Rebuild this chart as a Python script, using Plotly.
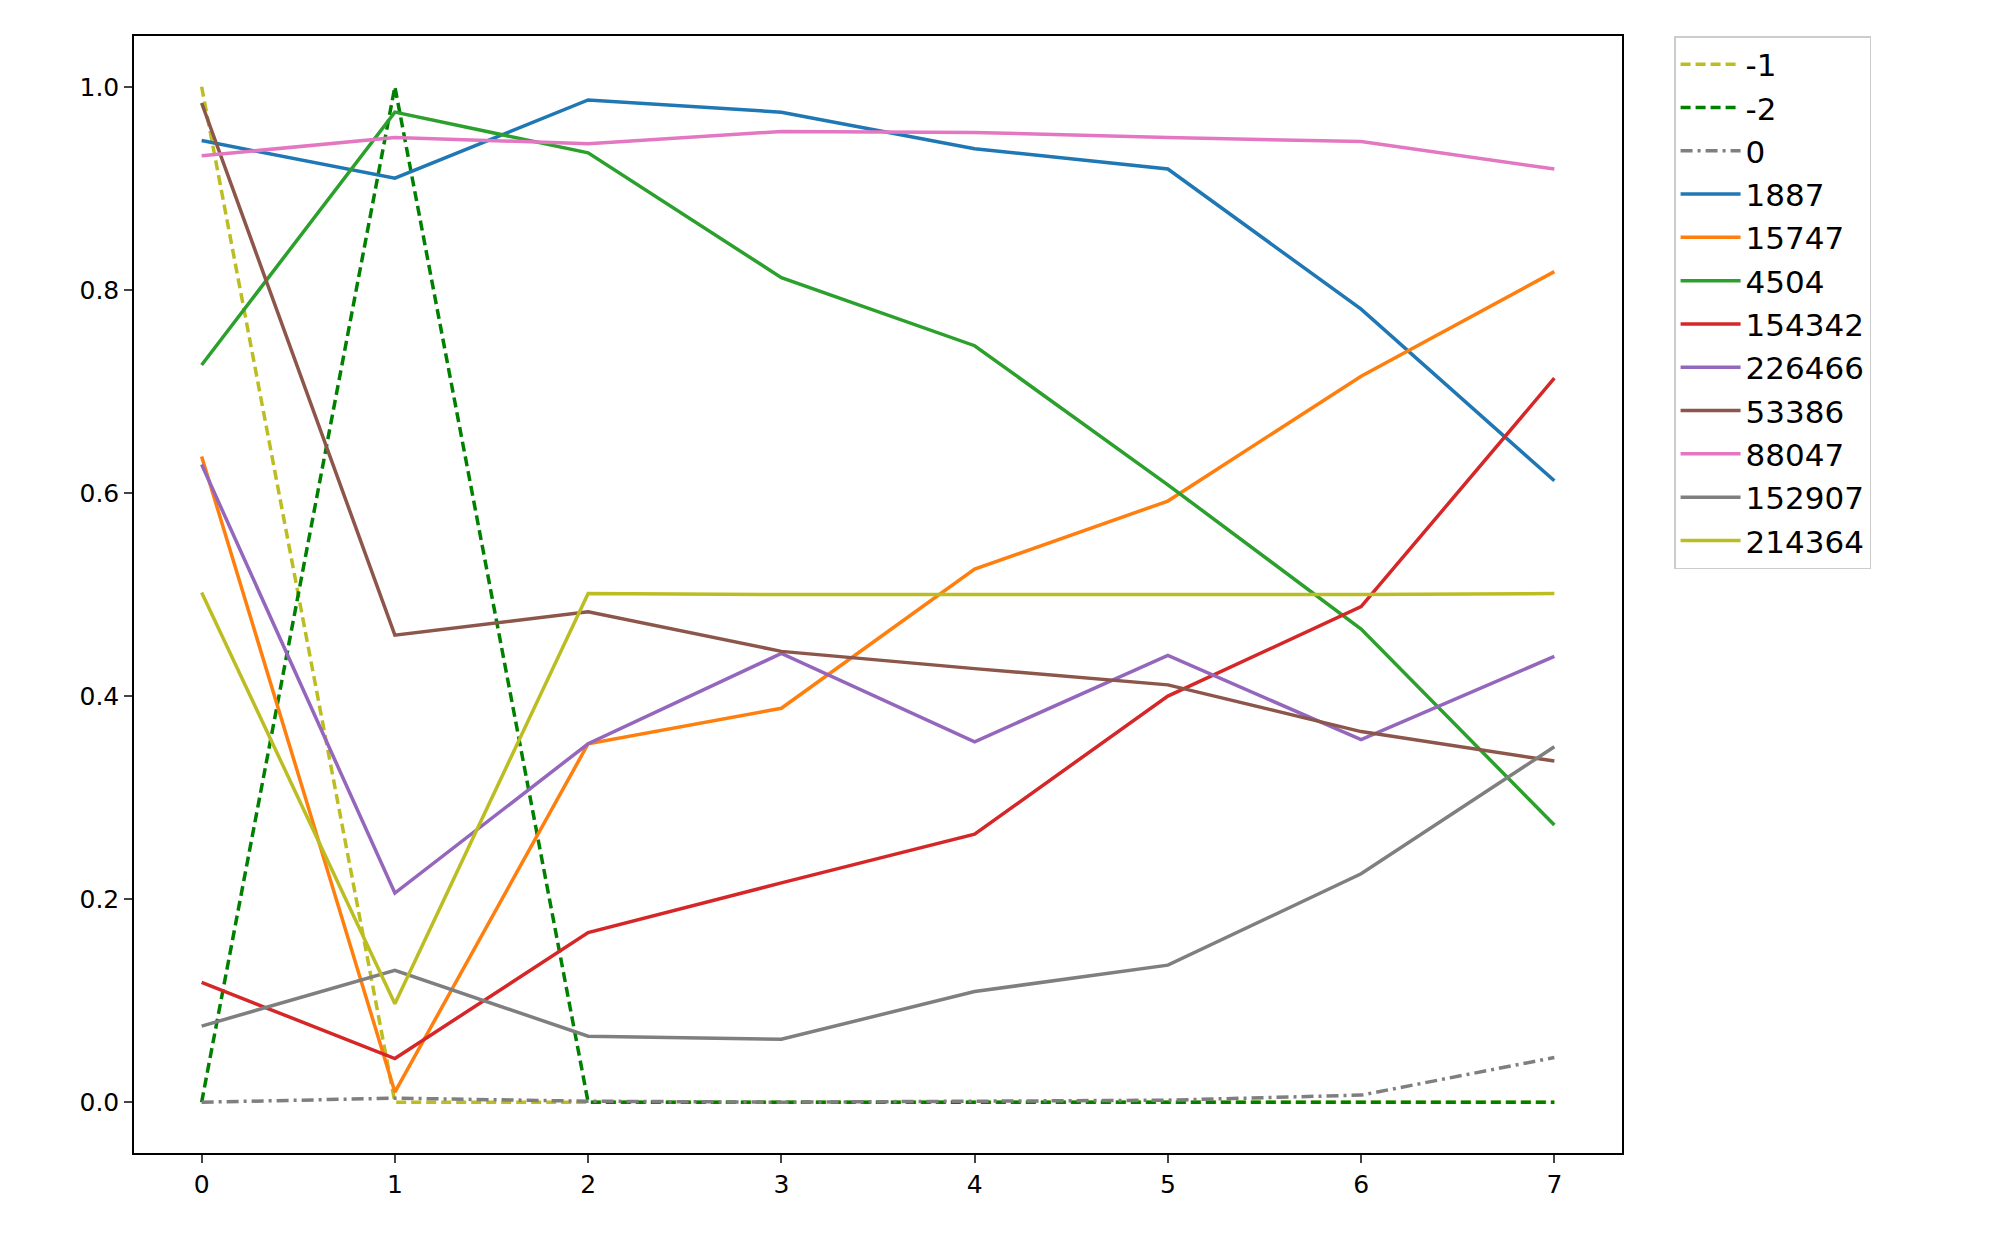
import plotly.graph_objects as go

x_vals = [0, 1, 2, 3, 4, 5, 6, 7]

names = ["-1", "-2", "0", "1887", "15747", "4504", "154342", "226466",
         "53386", "88047", "152907", "214364"]

s_m1 = [1.0, 0.0, 0.0, 0.0, 0.0, 0.0, 0.0, 0.0]
s_m2 = [0.0, 1.0, 0.0, 0.0, 0.0, 0.0, 0.0, 0.0]
s_0 = [0.0, 0.004, 0.001, 0.0, 0.001, 0.002, 0.007, 0.044]
s_1887 = [0.947, 0.910, 0.987, 0.975, 0.939, 0.919, 0.781, 0.612]
s_15747 = [0.636, 0.010, 0.353, 0.388, 0.525, 0.592, 0.715, 0.818]
s_4504 = [0.726, 0.975, 0.935, 0.812, 0.745, 0.608, 0.466, 0.273]
s_154342 = [0.118, 0.043, 0.167, 0.216, 0.264, 0.400, 0.488, 0.713]
s_226466 = [0.628, 0.206, 0.353, 0.442, 0.355, 0.440, 0.357, 0.439]
s_53386 = [0.984, 0.460, 0.483, 0.444, 0.427, 0.411, 0.365, 0.336]
s_88047 = [0.932, 0.950, 0.944, 0.956, 0.955, 0.950, 0.946, 0.919]
s_152907 = [0.075, 0.130, 0.065, 0.062, 0.109, 0.135, 0.225, 0.350]
s_214364 = [0.502, 0.097, 0.501, 0.500, 0.500, 0.500, 0.500, 0.501]

series = [s_m1, s_m2, s_0, s_1887, s_15747, s_4504, s_154342, s_226466,
          s_53386, s_88047, s_152907, s_214364]
colors = ["#bcbd22", "#008000", "#7f7f7f", "#1f77b4", "#ff7f0e", "#2ca02c",
          "#d62728", "#9467bd", "#8c564b", "#e377c2", "#7f7f7f", "#bcbd22"]
dashes = ["10px,5px", "10px,5px", "12px,5px,3px,5px"] + ["solid"] * 9

fig = go.Figure()
for n, s, c, d in zip(names, series, colors, dashes):
    fig.add_trace(go.Scatter(x=x_vals, y=s, mode="lines", name=n,
                             line=dict(color=c, width=3.5, dash=d)))

axis = dict(showgrid=False, zeroline=False, showline=True, mirror=True,
            linecolor="black", linewidth=1.5, ticks="outside", ticklen=8,
            tickwidth=1.5, tickfont=dict(size=25, color="black"))

fig.update_layout(
    width=2012, height=1239,
    paper_bgcolor="white", plot_bgcolor="white",
    font=dict(family="DejaVu Sans", color="black"),
    margin=dict(l=126, r=398, t=28, b=94),
    xaxis=dict(axis, range=[-0.35, 7.35], tickvals=x_vals),
    yaxis=dict(axis, range=[-0.05, 1.05], tickvals=[0, 0.2, 0.4, 0.6, 0.8, 1.0],
               tickformat=".1f"),
    legend=dict(x=1.035, y=1.0, xanchor="left", yanchor="top",
                bordercolor="#cccccc", borderwidth=1.5,
                font=dict(size=31), tracegroupgap=0, itemwidth=60),
    showlegend=True,
)

fig.write_html("out.html")
